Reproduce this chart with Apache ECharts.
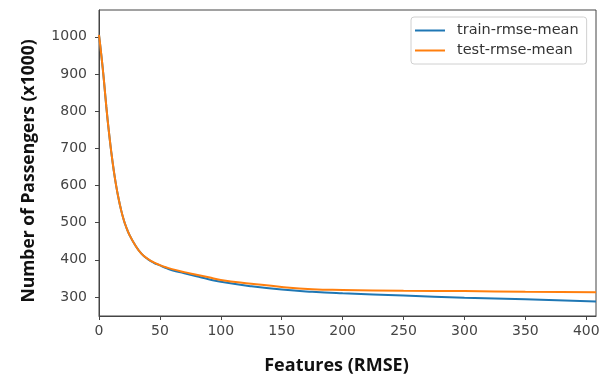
<!DOCTYPE html>
<html>
<head>
<meta charset="utf-8">
<script src="https://cdn.jsdelivr.net/npm/echarts@6/dist/echarts.min.js"></script>
<style>
  html, body { margin: 0; padding: 0; background: #fff; }
  #chart { width: 605px; height: 380px; }
</style>
</head>
<body>
<div id="chart"></div>
<script>
// values
var features = [0, 2, 4, 6, 8, 10, 12, 14, 16, 18, 20, 22, 25, 30, 35, 40, 45, 50, 55, 60, 70, 80, 90, 100, 125, 150, 175, 200, 250, 300, 350, 408];
var trainRmse = [1005, 948, 884, 812, 748, 692, 643, 601, 566, 536, 511, 491, 467, 438, 416, 402, 392, 385, 378, 372, 364, 356, 348, 341, 329, 320, 314, 310, 304, 298, 294, 288];
var testRmse = [1005, 948, 884, 812, 748, 692, 643, 601, 566, 536, 511, 491, 467, 438, 416, 403, 393, 386, 380, 375, 367, 360, 353, 346, 336, 327, 321, 319, 317, 316, 314, 313];
var xTicks = [0, 50, 100, 150, 200, 250, 300, 350, 400];
var yTicks = [300, 400, 500, 600, 700, 800, 900, 1000];

function pairs(xs, ys) {
    var out = [];
    for (var i = 0; i < xs.length; i++) {
        out.push([xs[i], ys[i]]);
    }
    return out;
}

var axisColor = "#444";

var option = {
    animation: false,
    grid: {
        left: 99,
        right: 9,
        top: 10,
        bottom: 63,
        show: true,
        borderColor: axisColor,
        borderWidth: 1
    },
    legend: {
        orient: "vertical",
        left: 411,
        top: 17,
        padding: [6, 8, 6, 4],
        itemWidth: 30,
        itemHeight: 2,
        itemGap: 5,
        icon: "rect",
        borderColor: "#d0d0d0",
        borderWidth: 1,
        borderRadius: 3,
        textStyle: {
            fontFamily: "DejaVu Sans",
            fontSize: 14.5,
            color: "#333",
            padding: [0, 0, 0, 7]
        },
        data: ["train-rmse-mean", "test-rmse-mean"]
    },
    xAxis: {
        type: "value",
        min: 0,
        max: 408,
        name: "Features (RMSE)",
        nameLocation: "middle",
        nameGap: 41,
        nameTextStyle: {
            fontFamily: "Open Sans",
            fontWeight: "bold",
            fontSize: 18,
            color: "#111",
            padding: [0, 22, 0, 0]
        },
        axisLine: { show: true, lineStyle: { color: axisColor } },
        axisTick: { show: true, length: 4, lineStyle: { color: axisColor }, customValues: xTicks },
        axisLabel: {
            customValues: xTicks,
            margin: 8,
            fontFamily: "DejaVu Sans",
            fontSize: 14,
            color: "#444"
        },
        splitLine: { show: false }
    },
    yAxis: {
        type: "value",
        min: 249,
        max: 1072,
        name: "Number of Passengers (x1000)",
        nameLocation: "middle",
        nameGap: 61,
        nameTextStyle: {
            fontFamily: "Open Sans",
            fontWeight: "bold",
            fontSize: 17.5,
            color: "#111",
            padding: [0, 16, 0, 0]
        },
        axisLine: { show: true, lineStyle: { color: axisColor } },
        axisTick: { show: true, length: 4, lineStyle: { color: axisColor }, customValues: yTicks },
        axisLabel: {
            customValues: yTicks,
            margin: 12,
            fontFamily: "DejaVu Sans",
            fontSize: 14,
            color: "#444",
            formatter: function (v) { return String(v); }
        },
        splitLine: { show: false }
    },
    series: [
        {
            name: "train-rmse-mean",
            type: "line",
            smooth: 0.5,
            showSymbol: false,
            color: "#1f77b4",
            lineStyle: { width: 2 },
            data: pairs(features, trainRmse)
        },
        {
            name: "test-rmse-mean",
            type: "line",
            smooth: 0.5,
            showSymbol: false,
            color: "#ff7f0e",
            lineStyle: { width: 2 },
            data: pairs(features, testRmse)
        }
    ]
};

var chart = echarts.init(document.getElementById("chart"));
chart.setOption(option);
</script>
</body>
</html>
